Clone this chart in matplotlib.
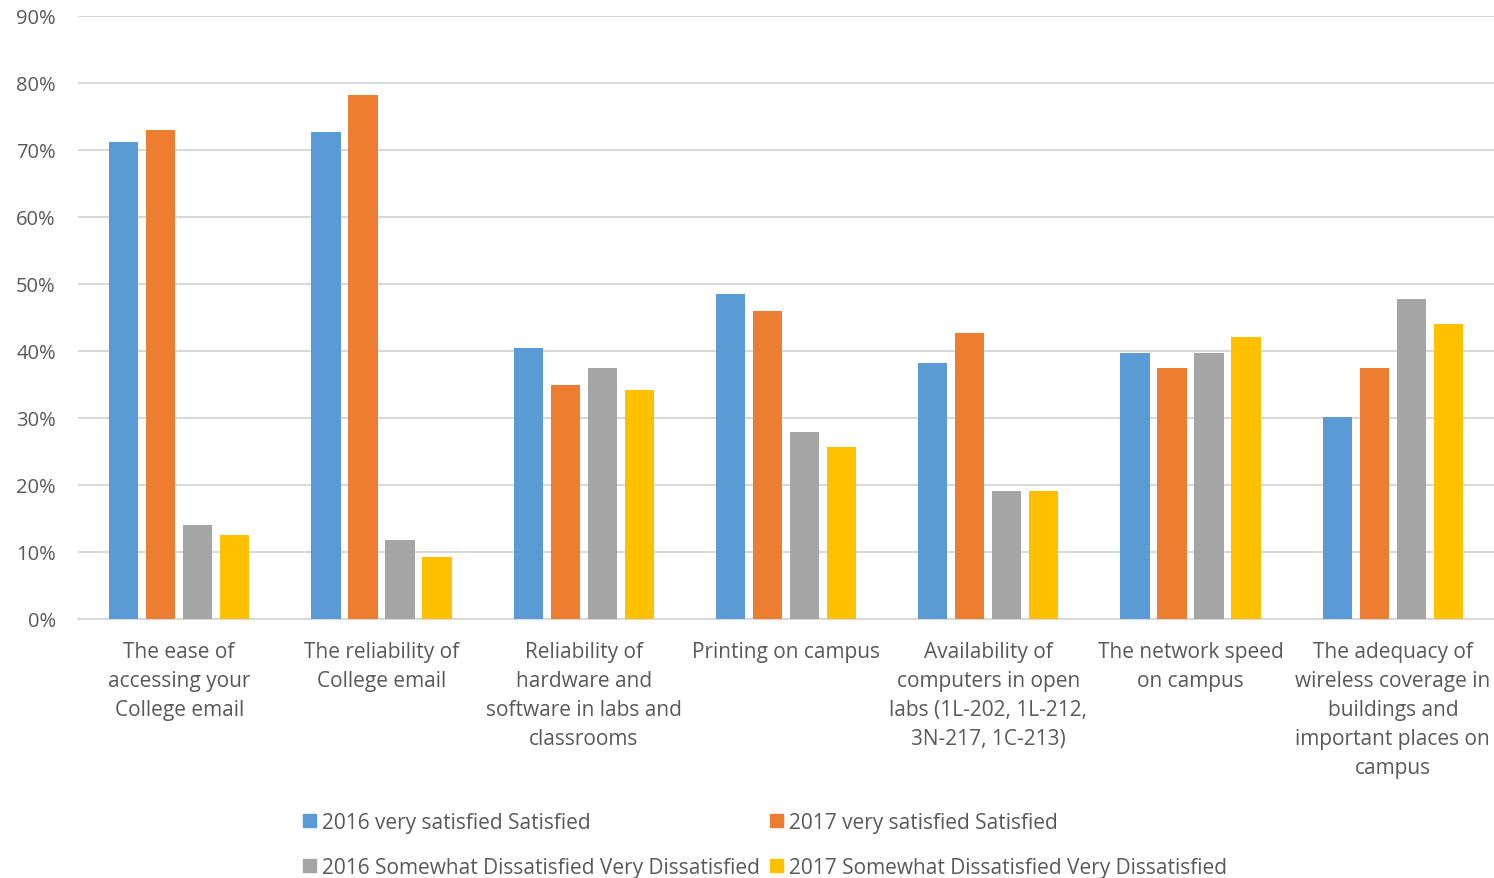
import numpy as np
import matplotlib.pyplot as plt
from matplotlib.ticker import PercentFormatter
from matplotlib.patches import Patch

plt.rcParams['font.family'] = ['Open Sans', 'DejaVu Sans']

categories = [
    "The ease of\naccessing your\nCollege email",
    "The reliability of\nCollege email",
    "Reliability of\nhardware and\nsoftware in labs and\nclassrooms",
    "Printing on campus",
    "Availability of\ncomputers in open\nlabs (1L-202, 1L-212,\n3N-217, 1C-213)",
    "The network speed\non campus",
    "The adequacy of\nwireless coverage in\nbuildings and\nimportant places on\ncampus",
]
sat_2016 = [71.2, 72.7, 40.4, 48.5, 38.2, 39.7, 30.1]
sat_2017 = [73.0, 78.2, 34.9, 46.0, 42.7, 37.5, 37.5]
dis_2016 = [14.0, 11.8, 37.5, 27.9, 19.1, 39.7, 47.8]
dis_2017 = [12.5, 9.3, 34.2, 25.7, 19.1, 42.1, 44.0]

series = [
    ("2016 very satisfied Satisfied", sat_2016, "#5b9bd5"),
    ("2017 very satisfied Satisfied", sat_2017, "#ed7d31"),
    ("2016 Somewhat Dissatisfied Very Dissatisfied", dis_2016, "#a5a5a5"),
    ("2017 Somewhat Dissatisfied Very Dissatisfied", dis_2017, "#ffc000"),
]

text_color = "#595959"
grid_color = "#d9d9d9"

fig = plt.figure(figsize=(14.94, 8.79), dpi=100)
ax = fig.add_axes([0.0522, 0.2947, 0.9478, 0.686])

x = np.arange(len(categories))
step = 0.183
width = 0.145
for k, (name, vals, col) in enumerate(series):
    ax.bar(x + (k - 1.5) * step, vals, width, color=col, label=name, zorder=3)

ax.set_xlim(-0.5, len(categories) - 0.5)
ax.set_ylim(0, 90)
ax.set_yticks(np.arange(0, 91, 10))
ax.yaxis.set_major_formatter(PercentFormatter(decimals=0))
ax.set_xticks(x)
ax.set_xticklabels(categories, fontsize=15, color=text_color, linespacing=1.5, va="top")
ax.tick_params(axis="y", labelsize=14.5, labelcolor=text_color, length=0, pad=16)
ax.tick_params(axis="x", length=0, pad=16)
ax.grid(axis="y", color=grid_color, linewidth=1.5, zorder=0)
for s in ["top", "right", "left"]:
    ax.spines[s].set_visible(False)
ax.spines["bottom"].set_color(grid_color)
ax.spines["bottom"].set_linewidth(1.5)

# legend: 2016 entries in the first column, 2017 in the second
order = [0, 2, 1, 3]
handles = [Patch(color=series[i][2]) for i in order]
labels = [series[i][0] for i in order]
fig.legend(handles, labels, ncol=2, loc="lower left", bbox_to_anchor=(0.196, -0.012),
           frameon=False, fontsize=15, labelcolor=text_color, borderpad=0,
           handlelength=0.6, handleheight=0.6, handletextpad=0.3,
           columnspacing=0.5, labelspacing=1.15)

fig.savefig("out.png", dpi=100)
